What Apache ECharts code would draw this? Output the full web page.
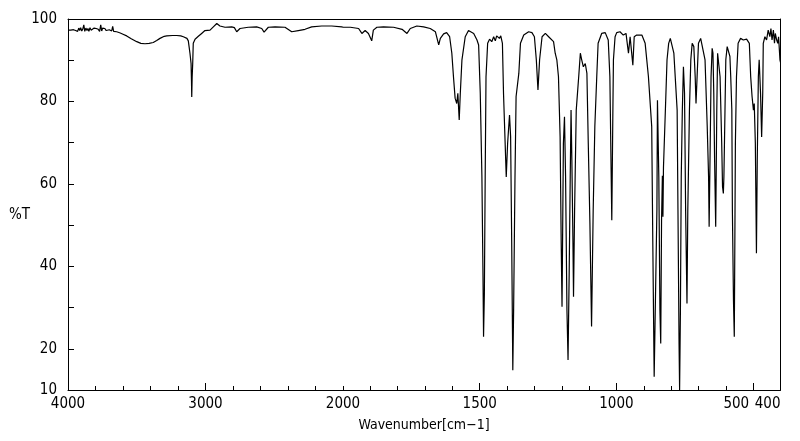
<!DOCTYPE html>
<html>
<head>
<meta charset="utf-8">
<script src="https://cdn.jsdelivr.net/npm/echarts@6/dist/echarts.min.js"></script>
<style>
html,body{margin:0;padding:0;background:#fff;}
#chart{width:800px;height:441px;}
</style>
</head>
<body>
<div id="chart"></div>
<script>
// Wavenumber (cm-1) and %T
const wavenumber = [
4000,3980,3960,3945,3937,3930,3922,3915,3908,3900,3892,3885,3878,3870,3862,3855,3848,3840,3832,3825,
3818,3810,3802,3795,3788,3780,3770,3762,3755,3748,3740,3732,3722,3712,3700,3690,3682,3675,3668,3660,
3646,3620,3600,3573,3540,3500,3470,3440,3410,3380,3355,3331,3300,3282,3240,3209,3180,3161,3135,3125,
3113,3105,3102,3100,3097,3093,3089,3076,3052,3028,3004,2967,2943,2918,2895,2858,2809,2790,2773,2749,
2689,2628,2591,2574,2543,2494,2422,2373,2325,2276,2228,2155,2082,2009,2000,
1973,1943,1931,1919,1907,1901,1895,1889,1876,1852,1815,1784,1766,1754,1730,1705,1681,1662,1650,1644,
1632,1621,1610,1602,1596,1590,1584,1580,1575,1571,1565,1553,1541,1534,1522,1510,1504,1498,1492,1488,
1486,1483,1480,1477,1471,1464,1456,1449,1443,1438,1428,1423,1417,1413,1407,1403,1398,1391,1387,1383,
1379,1376,1371,1367,1357,1351,1339,1321,1309,1300,1293,1287,1281,1272,1260,1248,1230,1224,1218,1212,
1206,1202,1199,1194,1190,1186,1181,1177,1173,1169,1166,1163,1159,1157,1153,1147,1138,1132,1127,1121,
1114,1108,1103,1097,1091,1085,1079,1072,1067,1054,1041,1030,1024,1017,1013,1011,1005,999,987,975,
965,956,950,944,940,935,926,907,895,883,871,867,862,858,852,850,845,841,838,835,
832,830,828,821,815,809,803,797,790,778,775,771,769,766,763,759,755,751,747,742,
739,733,728,723,717,712,709,705,700,692,685,676,668,663,661,657,654,650,647,644,
641,637,633,630,626,621,615,612,609,607,603,600,595,591,585,582,578,576,572,569,
567,565,561,555,546,536,524,514,509,504,499,496,492,488,485,481,478,473,469,465,
463,457,451,445,439,435,431,426,422,419,414,410,407,402,400
];
const transmittance = [
97.3,97.3,97.4,97.2,97.6,97.0,97.8,97.2,97.9,97.1,97.6,98.6,97.0,97.8,97.2,97.7,97.0,97.9,97.3,97.6,
97.2,97.8,97.4,97.7,97.3,97.5,97.0,98.6,97.1,97.8,97.4,97.7,97.2,97.6,97.4,97.7,97.1,98.2,97.0,97.4,
96.9,96.6,96.3,95.9,95.2,94.5,94.1,94.0,94.1,94.3,94.8,95.3,95.8,95.9,96.0,96.0,95.9,95.7,95.3,94.7,
91.7,89.2,85.0,81.1,86.0,89.2,94.1,95.1,95.8,96.5,97.2,97.3,98.1,98.9,98.3,98.0,98.1,97.9,96.9,97.7,
98.0,98.1,97.7,96.8,98.0,98.1,98.0,96.9,97.2,97.5,98.1,98.3,98.3,98.1,98.0,
98.0,97.7,96.5,97.2,96.5,96.9,94.7,97.3,98.0,98.1,98.0,97.5,96.5,97.7,98.3,98.1,97.7,96.9,93.7,95.3,
96.4,96.7,95.7,91.7,86.0,80.8,79.5,82.0,75.5,82.0,90.1,95.7,97.2,97.3,96.5,94.9,93.7,82.0,61.7,37.5,
22.9,33.4,61.7,86.0,94.1,95.1,94.5,95.7,94.7,95.9,95.3,95.9,94.1,82.0,69.8,61.7,69.8,76.7,71.4,45.6,
14.8,29.4,61.7,81.2,86.8,94.1,96.1,96.9,96.7,95.7,90.1,82.8,90.1,95.7,96.5,95.7,94.5,91.7,90.1,86.0,
71.4,45.6,30.2,69.8,76.3,61.7,29.4,17.3,37.5,61.7,77.9,65.8,45.6,32.6,53.7,77.9,86.0,91.7,90.1,88.4,
89.2,86.8,69.8,50.4,25.4,53.7,73.9,86.0,94.1,96.5,96.7,94.9,86.0,51.2,77.9,90.1,95.7,96.7,96.9,96.1,
96.5,91.7,95.7,95.3,88.8,95.7,96.1,96.1,94.1,86.0,73.9,45.6,13.2,29.4,53.7,80.3,61.7,29.4,21.3,51.2,
62.0,52.0,64.0,77.9,90.1,94.1,95.3,94.9,91.7,77.9,53.7,21.3,10.0,29.4,61.7,77.9,88.4,82.0,53.7,31.0,
53.7,77.9,90.1,94.1,93.3,86.0,79.5,86.0,94.1,95.3,94.9,90.1,73.9,61.7,49.6,69.8,86.0,92.9,91.7,82.0,
65.8,49.6,77.9,91.7,91.3,86.0,69.8,59.3,57.7,61.7,77.9,90.1,93.3,93.7,90.9,86.0,77.9,53.7,31.8,22.9,
45.6,69.8,86.0,94.1,95.3,94.9,95.1,94.1,86.0,81.2,77.9,79.5,69.8,43.2,65.8,86.0,90.1,82.0,71.4,82.0,
94.1,95.7,94.9,97.3,95.7,97.7,94.9,97.3,94.1,96.5,94.9,94.1,95.7,90.1,89.5
];
const xLabelsHigh = [4000, 3000, 2000];
const xLabelsLow = [1500, 1000];
const xLabel500 = [500];
const xLabel400 = [400];
const yLabels = [10, 20, 40, 60, 80, 100];

const highPart = [], lowPart = [];
for (let i = 0; i < wavenumber.length; i++) {
  if (wavenumber[i] >= 2000) highPart.push([wavenumber[i], transmittance[i]]);
  if (wavenumber[i] <= 2000) lowPart.push([wavenumber[i], transmittance[i]]);
}

const FONT = "'Liberation Sans Narrow', 'DejaVu Sans Condensed', sans-serif";
const plain = function (v) { return String(v); };
const lbl = {color: '#000', fontFamily: FONT, fontSize: 15, formatter: plain};
const line = {show: true, lineStyle: {color: '#000', width: 1}};

function xa(grid, min, max, extra) {
  return Object.assign({
    type: 'value', gridIndex: grid, min: min, max: max, inverse: true,
    position: 'bottom', splitLine: {show: false},
    axisLine: {show: false}, axisTick: {show: false}, axisLabel: {show: false}
  }, extra);
}

const chart = echarts.init(document.getElementById('chart'), null, {renderer: 'canvas'});
chart.setOption({
  animation: false,
  backgroundColor: '#fff',
  grid: [
    {left: 68, top: 19, width: 275, height: 371},
    {left: 343, top: 19, width: 437.5, height: 371}
  ],
  xAxis: [
    xa(0, 2000, 4000, {interval: 200, axisLine: line,
      axisTick: {show: true, inside: true, length: 4, lineStyle: {color: '#000'}}}),
    xa(0, 2000, 4000, {
      axisTick: {show: true, inside: true, length: 7, customValues: [3000], lineStyle: {color: '#000'}},
      axisLabel: Object.assign({show: true, margin: 7, customValues: xLabelsHigh}, lbl)}),
    xa(0, 2000, 4000, {position: 'top', axisLine: line}),
    xa(1, 400, 2000, {interval: 100, axisLine: line,
      axisTick: {show: true, inside: true, length: 4, lineStyle: {color: '#000'}}}),
    xa(1, 400, 2000, {
      axisTick: {show: true, inside: true, length: 7, customValues: [1500, 1000, 500], lineStyle: {color: '#000'}},
      axisLabel: Object.assign({show: true, margin: 7, customValues: xLabelsLow}, lbl)}),
    xa(1, 400, 2000, {
      axisLabel: Object.assign({show: true, margin: 7, customValues: xLabel500, align: 'right', padding: [0, 4, 0, 0]}, lbl)}),
    xa(1, 400, 2000, {
      axisLabel: Object.assign({show: true, margin: 7, customValues: xLabel400, align: 'right'}, lbl)}),
    xa(1, 400, 2000, {position: 'top', axisLine: line})
  ],
  yAxis: [
    {type: 'value', gridIndex: 0, min: 10, max: 100, interval: 10, position: 'left',
      splitLine: {show: false}, axisLine: line,
      axisTick: {show: true, inside: true, length: 6, lineStyle: {color: '#000'}},
      axisLabel: Object.assign({show: true, margin: 11, customValues: yLabels}, lbl)},
    {type: 'value', gridIndex: 1, min: 10, max: 100, position: 'right',
      splitLine: {show: false}, axisLine: line, axisTick: {show: false}, axisLabel: {show: false}}
  ],
  graphic: [
    {type: 'text', left: 9, top: 208, style: {text: '%T', fill: '#000', font: '15px ' + FONT}},
    {type: 'text', x: 424, y: 425, style: {text: 'Wavenumber[cm−1]', fill: '#000', font: '14px ' + FONT,
      align: 'center', verticalAlign: 'middle'}}
  ],
  series: [
    {type: 'line', xAxisIndex: 0, yAxisIndex: 0, data: highPart, showSymbol: false, symbol: 'none',
      lineStyle: {color: '#000', width: 1.2}, silent: true},
    {type: 'line', xAxisIndex: 3, yAxisIndex: 1, data: lowPart, showSymbol: false, symbol: 'none',
      lineStyle: {color: '#000', width: 1.2}, silent: true}
  ]
});
</script>
</body>
</html>
